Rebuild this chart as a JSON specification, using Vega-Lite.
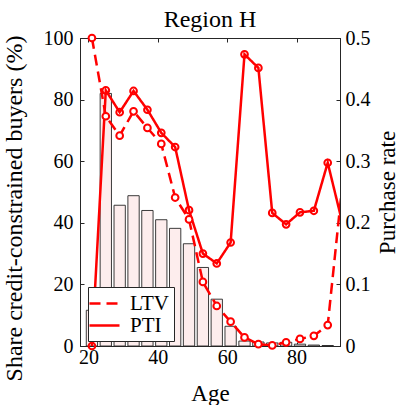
{
  "$schema": "https://vega.github.io/schema/vega-lite/v6.json",
  "autosize": "none",
  "width": 260,
  "height": 308,
  "padding": {"left": 80, "top": 38, "right": 58, "bottom": 59},
  "background": "white",
  "config": {
    "font": "Liberation Serif",
    "view": {"stroke": "#262626", "strokeWidth": 1},
    "axis": {"grid": false, "domainColor": "#262626", "tickColor": "#262626", "labelColor": "black", "titleColor": "black", "labelFont": "Liberation Serif", "titleFont": "Liberation Serif", "labelFontSize": 20, "titleFontSize": 23, "titleFontWeight": "normal", "tickSize": -4, "labelPadding": 11},
    "title": {"font": "Liberation Serif", "fontSize": 24, "fontWeight": "normal", "color": "black", "offset": -4}
  },
  "title": "Region H",
  "datasets": {
    "bars": [
      {"age": 21, "rate": 0.058},
      {"age": 25, "rate": 0.41},
      {"age": 29, "rate": 0.2285},
      {"age": 33, "rate": 0.244},
      {"age": 37, "rate": 0.22},
      {"age": 41, "rate": 0.205},
      {"age": 45, "rate": 0.191},
      {"age": 49, "rate": 0.166},
      {"age": 53, "rate": 0.1275},
      {"age": 57, "rate": 0.076},
      {"age": 61, "rate": 0.032},
      {"age": 65, "rate": 0.008},
      {"age": 69, "rate": 0.0065},
      {"age": 73, "rate": 0.005},
      {"age": 77, "rate": 0.006},
      {"age": 81, "rate": 0.003},
      {"age": 85, "rate": 0.0015},
      {"age": 89, "rate": 0.0008}
    ],
    "lines": [
      {"age": 21, "series": "LTV", "share": 100},
      {"age": 25, "series": "LTV", "share": 74.6},
      {"age": 29, "series": "LTV", "share": 68.3},
      {"age": 33, "series": "LTV", "share": 76.2},
      {"age": 37, "series": "LTV", "share": 70.8},
      {"age": 41, "series": "LTV", "share": 65.6},
      {"age": 45, "series": "LTV", "share": 48.2},
      {"age": 49, "series": "LTV", "share": 41.1},
      {"age": 53, "series": "LTV", "share": 20.8},
      {"age": 57, "series": "LTV", "share": 13.0},
      {"age": 61, "series": "LTV", "share": 7.9},
      {"age": 65, "series": "LTV", "share": 2.8},
      {"age": 69, "series": "LTV", "share": 0.6},
      {"age": 73, "series": "LTV", "share": 0.2},
      {"age": 77, "series": "LTV", "share": 1.2},
      {"age": 81, "series": "LTV", "share": 2.3},
      {"age": 85, "series": "LTV", "share": 3.3},
      {"age": 89, "series": "LTV", "share": 6.8},
      {"age": 93, "series": "LTV", "share": 50},
      {"age": 21, "series": "PTI", "share": 0},
      {"age": 25, "series": "PTI", "share": 83.0},
      {"age": 29, "series": "PTI", "share": 75.9},
      {"age": 33, "series": "PTI", "share": 82.8},
      {"age": 37, "series": "PTI", "share": 76.7},
      {"age": 41, "series": "PTI", "share": 69.2},
      {"age": 45, "series": "PTI", "share": 64.6},
      {"age": 49, "series": "PTI", "share": 44.1},
      {"age": 53, "series": "PTI", "share": 30.0},
      {"age": 57, "series": "PTI", "share": 26.8},
      {"age": 61, "series": "PTI", "share": 33.6},
      {"age": 65, "series": "PTI", "share": 94.7},
      {"age": 69, "series": "PTI", "share": 90.3},
      {"age": 73, "series": "PTI", "share": 43.2},
      {"age": 77, "series": "PTI", "share": 39.5},
      {"age": 81, "series": "PTI", "share": 43.4},
      {"age": 85, "series": "PTI", "share": 43.9},
      {"age": 89, "series": "PTI", "share": 59.5},
      {"age": 93, "series": "PTI", "share": 41}
    ]
  },
  "layer": [
    {
      "data": {"name": "bars"},
      "mark": {"type": "bar", "width": 11.3, "fill": "#fdeded", "stroke": "#262626", "strokeWidth": 0.9, "clip": true},
      "encoding": {
        "x": {"field": "age", "type": "quantitative", "scale": {"domain": [19, 91.1], "nice": false, "zero": false},
              "axis": {"orient": "bottom", "values": [20, 40, 60, 80], "title": "Age", "labelPadding": 5, "titlePadding": 15}},
        "y": {"field": "rate", "type": "quantitative", "scale": {"domain": [0, 0.5], "nice": false},
              "axis": {"orient": "right", "values": [0, 0.1, 0.2, 0.3, 0.4, 0.5], "format": "~g", "title": "Purchase rate", "titleAngle": 270, "titleBaseline": "top", "titlePadding": 6, "labelPadding": 9}}
      }
    },
    {
      "data": {"name": "lines"},
      "layer": [
        {
          "mark": {"type": "line", "color": "#ff0000", "strokeWidth": 2.5, "clip": true},
          "encoding": {
            "x": {"field": "age", "type": "quantitative", "axis": {"orient": "top", "values": [20, 40, 60, 80], "labels": false, "title": null}},
            "y": {"field": "share", "type": "quantitative", "scale": {"domain": [0, 100], "nice": false},
                  "axis": {"orient": "left", "values": [0, 20, 40, 60, 80, 100], "title": "Share credit-constrained buyers (%)", "titleFontSize": 24, "titlePadding": 17, "titleY": 170}},
            "strokeDash": {"field": "series", "type": "nominal",
              "scale": {"domain": ["LTV", "PTI"], "range": [[11, 6], [1, 0]]},
              "legend": {"title": null, "orient": "none", "legendX": 8, "legendY": 249, "symbolType": "M-1.5,0L1.5,0", "symbolStrokeColor": "#ff0000", "symbolStrokeWidth": 2.5, "symbolSize": 400, "labelFont": "Liberation Serif", "labelFontSize": 21, "labelColor": "black", "labelOffset": 14, "strokeColor": "#262626", "fillColor": "white", "padding": 5, "rowPadding": 0}}
          }
        },
        {
          "transform": [{"filter": "datum.age < 91"}],
          "mark": {"type": "point", "shape": "circle", "size": 45, "stroke": "#ff0000", "strokeWidth": 2, "fill": "white", "opacity": 1},
          "encoding": {
            "x": {"field": "age", "type": "quantitative"},
            "y": {"field": "share", "type": "quantitative"},
            "fillOpacity": {"field": "series", "type": "nominal", "scale": {"domain": ["LTV", "PTI"], "range": [1, 0]}, "legend": null}
          }
        }
      ]
    }
  ],
  "resolve": {"scale": {"y": "independent"}, "axis": {"x": "independent", "y": "independent"}}
}
